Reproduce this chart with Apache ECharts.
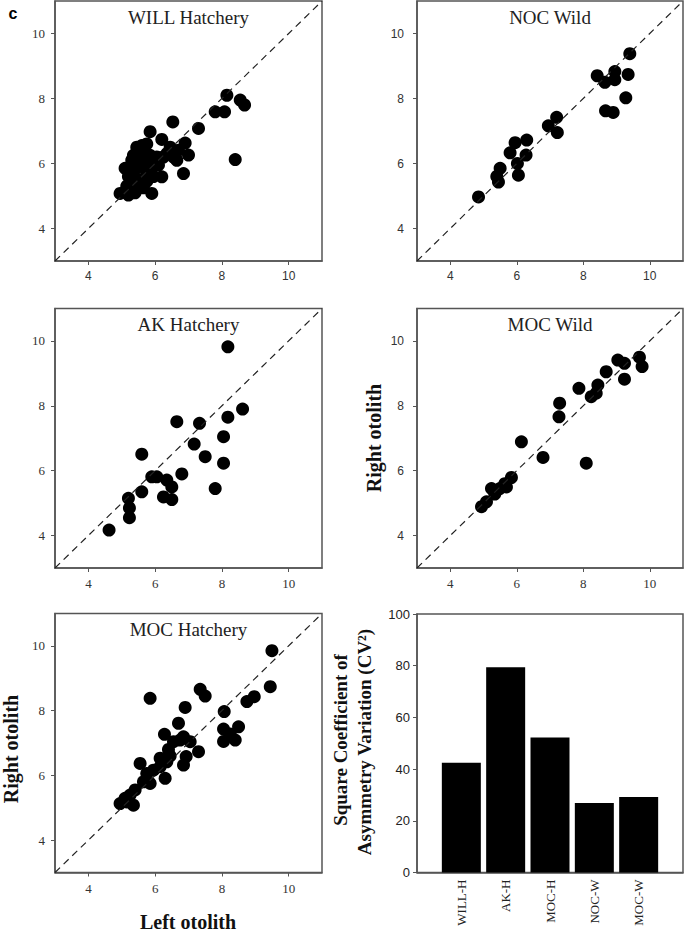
<!DOCTYPE html>
<html>
<head>
<meta charset="utf-8">
<script src="https://cdn.jsdelivr.net/npm/echarts@6/dist/echarts.min.js"></script>
<style>
  html, body { margin: 0; padding: 0; background: #fff; }
  #chart { width: 685px; height: 933px; }
</style>
</head>
<body>
<div id="chart"></div>
<script>
// left / right otolith values per group
const willLeft = [8.15, 8.55, 8.68, 7.8, 8.08, 6.53, 7.3, 5.85, 6.2, 6.9, 8.4, 7.0, 6.7, 6.65, 6.45, 6.55, 6.25, 6.85, 6.2, 5.9, 6.35,
  5.1, 5.3, 5.45, 5.65, 5.75, 5.55, 5.35, 5.55, 5.75, 5.9, 6.0, 5.65, 5.3, 5.15, 5.45, 5.75, 6.05, 5.85, 5.5, 5.2, 4.95, 5.2, 5.4,
  5.6, 6.1, 5.8, 5.45, 5.65, 5.95, 5.35]
const willRight = [8.1, 7.95, 7.8, 7.59, 7.59, 7.28, 7.08, 6.98, 6.74, 6.63, 6.12, 6.26, 6.41, 6.1, 6.5, 6.2, 6.2, 5.69, 5.59, 5.08, 6.3,
  5.85, 6.1, 6.5, 6.46, 6.6, 6.15, 5.7, 5.5, 5.7, 5.9, 6.1, 6.0, 5.45, 5.3, 5.35, 5.45, 6.2, 6.25, 5.9, 5.6, 5.08, 5.03, 5.1,
  6.55, 5.95, 6.05, 5.95, 5.25, 5.6, 6.25]

const nocWLeft = [4.85, 5.45, 5.5, 5.4, 6.05, 6.02, 5.8, 5.95, 6.3, 6.28, 6.95, 7.2, 7.22, 8.42, 8.65, 8.95, 8.95, 9.35, 9.4, 9.28, 8.67, 8.9]
const nocWRight = [4.97, 5.43, 5.85, 5.6, 5.64, 6.0, 6.33, 6.64, 6.72, 6.26, 7.16, 7.42, 6.95, 8.7, 8.5, 8.83, 8.58, 8.74, 9.38, 8.02, 7.62, 7.57]

const akLeft = [8.18, 8.62, 8.18, 6.65, 7.33, 8.05, 7.17, 7.5, 5.6, 8.05, 6.8, 7.8, 5.9, 6.05, 6.35, 6.5, 6.25, 6.5, 5.6, 5.2, 5.23, 5.23, 4.62]
const akRight = [9.82, 7.9, 7.65, 7.51, 7.46, 7.05, 6.82, 6.43, 6.51, 6.23, 5.9, 5.45, 5.81, 5.81, 5.71, 5.5, 5.19, 5.11, 5.35, 5.15, 4.85, 4.55, 4.17]

const mocWLeft = [4.94, 5.09, 5.24, 5.34, 5.49, 5.64, 5.69, 5.84, 6.14, 6.79, 8.09, 7.29, 7.27, 7.87, 8.24, 8.39, 8.44, 8.69, 9.04, 9.24, 9.24, 9.69, 9.77]
const mocWRight = [4.89, 5.04, 5.45, 5.28, 5.45, 5.6, 5.5, 5.79, 6.89, 6.41, 6.23, 8.08, 7.66, 8.54, 8.28, 8.39, 8.64, 9.05, 9.41, 9.31, 8.82, 9.5, 9.21]

const mocHLeft = [9.5, 9.45, 8.97, 8.75, 8.07, 5.85, 7.35, 7.5, 6.9, 6.7, 6.28, 8.05, 8.25, 8.5, 8.4, 8.05, 6.85, 6.75, 7.05, 7.3,
  6.93, 6.85, 6.55, 6.4, 6.45, 6.15, 6.35, 5.55, 6.15, 5.95, 5.75, 6.3, 5.65, 5.85, 5.4, 5.25, 5.1, 4.95, 5.35, 5.15]
const mocHRight = [9.85, 8.74, 8.43, 8.28, 7.97, 8.38, 8.66, 8.45, 8.1, 7.61, 7.27, 7.43, 7.28, 7.5, 7.09, 7.05, 7.19, 7.09, 7.04, 6.73,
  6.58, 6.32, 7.04, 6.8, 6.6, 6.53, 6.42, 6.37, 6.27, 6.16, 6.06, 5.91, 5.8, 5.75, 5.55, 5.39, 5.29, 5.13, 5.08, 5.18]

// bar chart: square coefficient of asymmetry variation
const barCats = ['WILL-H', 'AK-H', 'MOC-H', 'NOC-W', 'MOC-W']
const barValues = [42.5, 79.4, 52.2, 26.9, 29.2]

const axisRange = [3, 11]
const otolithTicks = [4, 6, 8, 10]

const SERIF = 'Liberation Serif'
const SANS = 'Liberation Sans'

// panel boxes: left, top, width, height, title, x label font, y label font
const panels = [
  { box: [55, 1, 267, 260], title: 'WILL Hatchery', xFont: SANS, yFont: SERIF, left: willLeft, right: willRight },
  { box: [417, 1, 266, 260], title: 'NOC Wild', xFont: SANS, yFont: SANS, left: nocWLeft, right: nocWRight },
  { box: [55, 308.5, 267, 259.5], title: 'AK Hatchery', xFont: SERIF, yFont: SERIF, left: akLeft, right: akRight },
  { box: [417, 308.5, 266, 259.5], title: 'MOC Wild', xFont: SERIF, yFont: SANS, left: mocWLeft, right: mocWRight },
  { box: [55, 613.5, 267, 259], title: 'MOC Hatchery', xFont: SERIF, yFont: SERIF, left: mocHLeft, right: mocHRight }
]
const barBox = [417, 614, 266, 258.5]

const chart = echarts.init(document.getElementById('chart'), null, { renderer: 'svg' })

const grids = []
const xAxes = []
const yAxes = []
const series = []
const graphics = []

function gridOf (b) {
  return {
    left: b[0], top: b[1], width: b[2], height: b[3],
    show: true, borderColor: '#555', borderWidth: 1.5, containLabel: false
  }
}

panels.forEach((p, i) => {
  grids.push(gridOf(p.box))
  xAxes.push({
    gridIndex: i, type: 'value', min: axisRange[0], max: axisRange[1],
    axisLine: { show: true, lineStyle: { color: '#555', width: 1.5 } },
    splitLine: { show: false },
    axisTick: { show: true, customValues: otolithTicks, length: 4, lineStyle: { color: '#555' } },
    axisLabel: {
      customValues: otolithTicks, margin: 9, color: '#333',
      fontFamily: p.xFont, fontSize: p.xFont === SANS ? 12 : 13
    }
  })
  yAxes.push({
    gridIndex: i, type: 'value', min: axisRange[0], max: axisRange[1],
    axisLine: { show: true, lineStyle: { color: '#555', width: 1.5 } },
    splitLine: { show: false },
    axisTick: { show: true, customValues: otolithTicks, length: 4, lineStyle: { color: '#555' } },
    axisLabel: {
      customValues: otolithTicks, margin: p.yFont === SANS ? 13 : 10, color: '#333',
      fontFamily: p.yFont, fontSize: p.yFont === SANS ? 12 : 13
    }
  })
  // 1:1 reference line
  series.push({
    type: 'line', xAxisIndex: i, yAxisIndex: i,
    data: axisRange.map(v => [v, v]),
    symbol: 'none', silent: true,
    lineStyle: { color: '#222', width: 1.2, type: [7, 5] }
  })
  series.push({
    type: 'scatter', xAxisIndex: i, yAxisIndex: i,
    data: p.left.map((v, k) => [v, p.right[k]]),
    symbolSize: 13,
    itemStyle: { color: '#000', opacity: 1 }
  })
  graphics.push({
    type: 'text',
    x: p.box[0] + p.box[2] / 2,
    y: p.box[1] + 16,
    style: {
      text: p.title, font: '19px "Liberation Serif"', fill: '#222',
      textAlign: 'center', textVerticalAlign: 'middle'
    }
  })
})

// bar panel
grids.push(gridOf(barBox))
xAxes.push({
  gridIndex: 5, type: 'category', boundaryGap: false,
  data: [''].concat(barCats, ['']),
  axisLine: { show: true, lineStyle: { color: '#555', width: 1.5 } },
  axisTick: { show: false },
  axisLabel: { rotate: 90, margin: 7, color: '#222', fontFamily: SERIF, fontSize: 13, interval: 0 }
})
yAxes.push({
  gridIndex: 5, type: 'value', min: 0, max: 100, interval: 20,
  axisLine: { show: true, lineStyle: { color: '#555', width: 1.5 } },
  splitLine: { show: false },
  axisTick: { show: true, length: 4, lineStyle: { color: '#555' } },
  axisLabel: { margin: 7, color: '#222', fontFamily: SANS, fontSize: 13 }
})
series.push({
  type: 'bar', xAxisIndex: 5, yAxisIndex: 5,
  data: [null].concat(barValues, [null]),
  barWidth: 39,
  itemStyle: { color: '#000' }
})

// panel letter and axis names
graphics.push(
  {
    type: 'text', x: 13, y: 13,
    style: { text: 'c', font: 'bold 16px "Liberation Sans"', fill: '#000', textAlign: 'center', textVerticalAlign: 'middle' }
  },
  {
    type: 'text', x: 374, y: 438, rotation: Math.PI / 2,
    style: { text: 'Right otolith', font: 'bold 20px "Liberation Serif"', fill: '#111', textAlign: 'center', textVerticalAlign: 'middle' }
  },
  {
    type: 'text', x: 11, y: 749, rotation: Math.PI / 2,
    style: { text: 'Right otolith', font: 'bold 20px "Liberation Serif"', fill: '#111', textAlign: 'center', textVerticalAlign: 'middle' }
  },
  {
    type: 'text', x: 188, y: 922,
    style: { text: 'Left otolith', font: 'bold 20px "Liberation Serif"', fill: '#111', textAlign: 'center', textVerticalAlign: 'middle' }
  },
  {
    type: 'text', x: 340, y: 740, rotation: Math.PI / 2,
    style: { text: 'Square Coefficient of', font: 'bold 19px "Liberation Serif"', fill: '#111', textAlign: 'center', textVerticalAlign: 'middle' }
  },
  {
    type: 'text', x: 364, y: 742, rotation: Math.PI / 2,
    style: { text: 'Asymmetry Variation (CV²)', font: 'bold 19px "Liberation Serif"', fill: '#111', textAlign: 'center', textVerticalAlign: 'middle' }
  }
)

chart.setOption({
  backgroundColor: '#fff',
  animation: false,
  grid: grids,
  xAxis: xAxes,
  yAxis: yAxes,
  series: series,
  graphic: { elements: graphics }
})
</script>
</body>
</html>
